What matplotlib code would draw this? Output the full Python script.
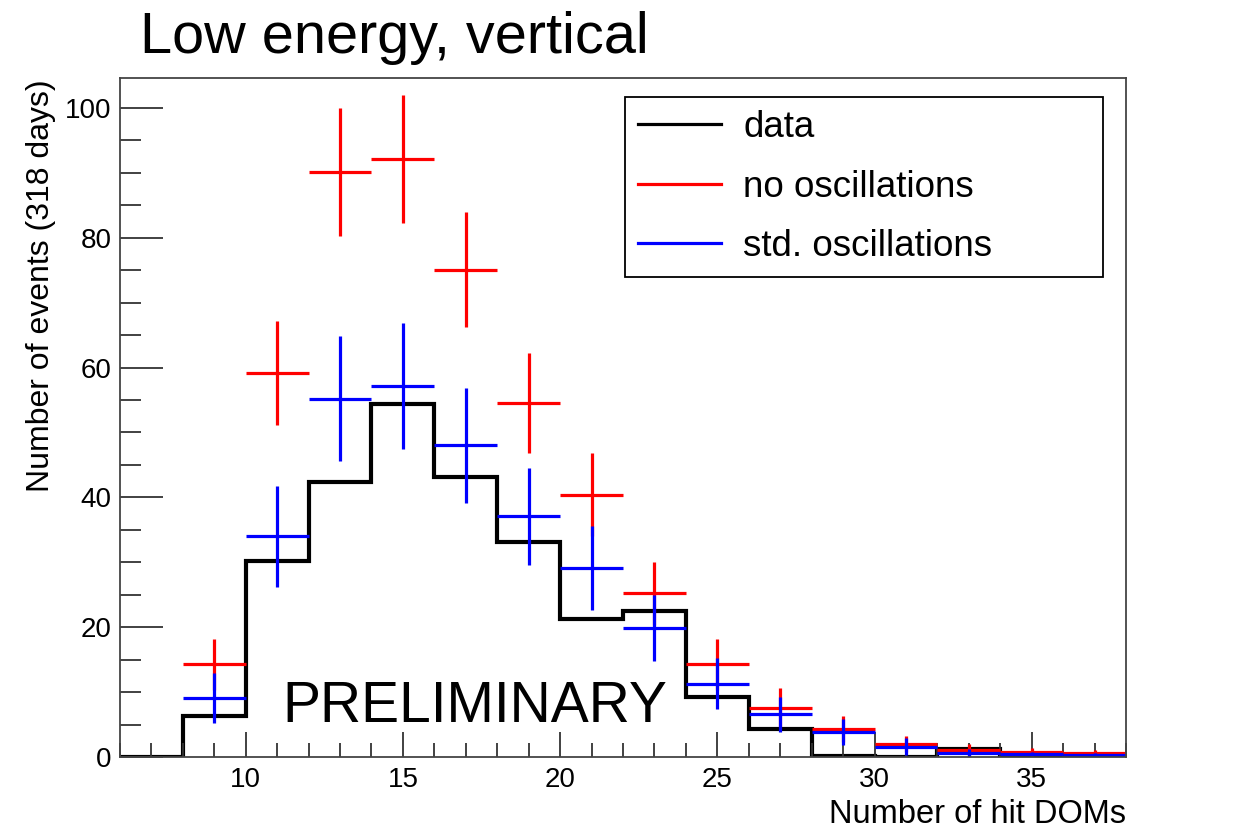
import matplotlib
matplotlib.use("Agg")
import matplotlib.pyplot as plt
from matplotlib.lines import Line2D

plt.rcParams['font.family'] = ['Liberation Sans', 'DejaVu Sans']

# bin edges (number of hit DOMs) and centres
edges = [6, 8, 10, 12, 14, 16, 18, 20, 22, 24, 26, 28, 30, 32, 34, 36, 38]
centers = [9, 11, 13, 15, 17, 19, 21, 23, 25, 27, 29, 31, 33, 35, 37]

# data histogram
data_counts = [0, 6.3, 30.2, 42.4, 54.4, 43.1, 33.1, 21.3, 22.5, 9.3, 4.3, 0.2, 0, 1.2, 0.3, 0.1]

# MC: no oscillations
noosc = [14.3, 59.2, 90.1, 92.1, 75.1, 54.6, 40.4, 25.2, 14.3, 7.6, 4.3, 2.0, 1.1, 0.7, 0.55]
noosc_err = [3.9, 8.0, 9.9, 9.9, 8.8, 7.7, 6.4, 4.9, 3.9, 3.0, 2.0, 1.3, 0.9, 0.7, 0.6]

# MC: standard oscillations
stdosc = [9.1, 34.0, 55.2, 57.2, 48.0, 37.1, 29.1, 19.9, 11.3, 6.6, 3.9, 1.6, 0.6, 0.4, 0.3]
stdosc_err = [3.9, 7.8, 9.6, 9.7, 8.8, 7.5, 6.5, 5.1, 3.9, 2.7, 2.0, 1.3, 0.6, 0.3, 0.3]

fig = plt.figure(figsize=(12.46, 8.39), dpi=100)
ax = fig.add_axes([0.0963, 0.0977, 0.8074, 0.8093])

ax.errorbar(centers, noosc, xerr=1, yerr=noosc_err, fmt='none', ecolor='#ff0000', elinewidth=2.3, capsize=0)
ax.errorbar(centers, stdosc, xerr=1, yerr=stdosc_err, fmt='none', ecolor='#0000ff', elinewidth=2.3, capsize=0)
ax.stairs(data_counts, edges, color='black', linewidth=3, baseline=None)

ax.set_xlim(6, 38)
ax.set_ylim(0, 104.6)

ax.set_xticks([10, 15, 20, 25, 30, 35])
ax.set_xticks(range(6, 39), minor=True)
ax.set_yticks([0, 20, 40, 60, 80, 100])
ax.set_yticks(range(0, 105, 5), minor=True)
ax.tick_params(axis='both', which='both', direction='in', labelsize=20, width=1.3, color='#333333')
ax.tick_params(axis='x', which='major', length=18, pad=7)
ax.tick_params(axis='x', which='minor', length=10)
ax.tick_params(axis='y', which='major', length=31, pad=6)
ax.tick_params(axis='y', which='minor', length=15)
for s in ax.spines.values():
    s.set_linewidth(1.3)
    s.set_color('#444444')

ax.text(11.18, 5.4, "PRELIMINARY", fontsize=41, va='baseline', ha='left')

handles = [Line2D([], [], color='black', lw=2.3),
           Line2D([], [], color='#ff0000', lw=2.3),
           Line2D([], [], color='#0000ff', lw=2.3)]
leg = ax.legend(handles, ["data", "no oscillations", "std. oscillations"],
                loc='upper left', bbox_to_anchor=(0.502, 0.972, 0.475, 0.0), mode='expand',
                borderaxespad=0, fontsize=26.5, handlelength=2.25, handletextpad=0.6,
                labelspacing=0.66, borderpad=0.36, fancybox=False, framealpha=1)
leg.get_frame().set_edgecolor('black')
leg.get_frame().set_linewidth(1.3)

fig.text(0.112, 0.937, "Low energy, vertical", fontsize=41.5, va='baseline', ha='left')
fig.text(0.033, 0.905, "Number of events (318 days)", fontsize=23, rotation=90, ha='center', va='top')
fig.text(0.9037, 0.029, "Number of hit DOMs", fontsize=23.5, ha='right', va='center')

fig.savefig("out.png", dpi=100)
